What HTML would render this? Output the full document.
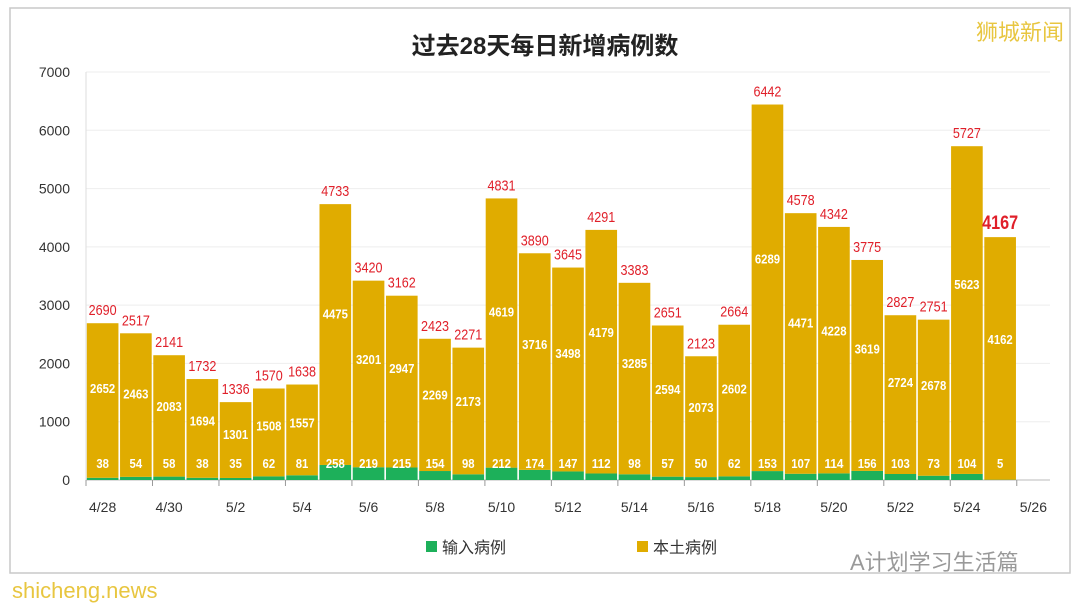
<!DOCTYPE html>
<html><head><meta charset="utf-8">
<style>
body{margin:0;width:1080px;height:609px;background:#fff;overflow:hidden;font-family:"Liberation Sans","Noto Sans CJK SC",sans-serif;}
svg text{font-family:"Liberation Sans","Noto Sans CJK SC",sans-serif;}
</style></head>
<body>
<svg id="chart" width="1080" height="609">
  <rect x="10" y="8" width="1060" height="565" fill="#fff" stroke="#c8c8c8" stroke-width="1.5"/>
  <text x="545" y="54" text-anchor="middle" font-size="24" font-weight="bold" fill="#222">过去28天每日新增病例数</text>
  <text x="1020" y="40" text-anchor="middle" font-size="22" fill="#e8c640">狮城新闻</text>
  <g id="grid"></g>
  <g id="bars"></g>
  <g id="axes"></g>
  <g>
    <rect x="426" y="541" width="11" height="11" fill="#1db05a"/>
    <text x="442" y="553" font-size="16" fill="#333">输入病例</text>
    <rect x="637" y="541" width="11" height="11" fill="#e0ac00"/>
    <text x="653" y="553" font-size="16" fill="#333">本土病例</text>
  </g>
  <text x="850" y="570" font-size="22" fill="#999">A计划学习生活篇</text>
  <text x="12" y="598" font-size="22" fill="#e8c640">shicheng.news</text>
</svg>
<script>
const categories=["4/28","4/29","4/30","5/1","5/2","5/3","5/4","5/5","5/6","5/7","5/8","5/9","5/10","5/11","5/12","5/13","5/14","5/15","5/16","5/17","5/18","5/19","5/20","5/21","5/22","5/23","5/24","5/25","5/26"];
const totals=[2690,2517,2141,1732,1336,1570,1638,4733,3420,3162,2423,2271,4831,3890,3645,4291,3383,2651,2123,2664,6442,4578,4342,3775,2827,2751,5727,4167];
const localCases=[2652,2463,2083,1694,1301,1508,1557,4475,3201,2947,2269,2173,4619,3716,3498,4179,3285,2594,2073,2602,6289,4471,4228,3619,2724,2678,5623,4162];
const imported=[38,54,58,38,35,62,81,258,219,215,154,98,212,174,147,112,98,57,50,62,153,107,114,156,103,73,104,5];
const yTicks=[0,1000,2000,3000,4000,5000,6000,7000];
const NS="http://www.w3.org/2000/svg";
const x0=86,x1=1050,y0=480,yTop=72,yMax=7000;
const slot=(x1-x0)/categories.length;
const xs=i=>x0+i*slot;
const ys=v=>y0-(v/yMax)*(y0-yTop);
function mk(tag,attrs,parent,txt){const e=document.createElementNS(NS,tag);for(const k in attrs)e.setAttribute(k,attrs[k]);if(txt!==undefined)e.textContent=txt;parent.appendChild(e);return e;}
const grid=document.getElementById('grid'),bars=document.getElementById('bars'),axes=document.getElementById('axes');
yTicks.forEach(v=>{
  const l=mk('line',{x1:x0,x2:x1,y1:ys(v),y2:ys(v),stroke:v===0?'#bbb':'#eee','stroke-width':1},grid);
  
  
  const t=mk('text',{x:x0-16,y:ys(v)+5,'text-anchor':'end','font-size':14,fill:'#333'},axes,String(v));
  
  
});
mk('line',{x1:x0,x2:x0,y1:yTop,y2:y0,stroke:'#ddd'},grid);
totals.forEach((tot,i)=>{
  const bx=xs(i)+0.8,bw=slot-1.6;
  const imp=imported[i],loc=localCases[i];
  const g=mk('rect',{x:bx,y:ys(imp),width:bw,height:y0-ys(imp),fill:'#1db05a'},bars);
  
  
  const r=mk('rect',{x:bx,y:ys(imp+loc),width:bw,height:ys(imp)-ys(imp+loc),fill:'#e0ac00'},bars);
  
  
  const cx=xs(i)+slot/2;
  const last=i===totals.length-1;
  const ts=String(tot);
  const tl=mk('text',{x:cx,y:ys(tot)-8,'text-anchor':'middle','font-size':last?19:15,'font-weight':last?'bold':'normal',fill:'#e0202a',textLength:ts.length*(last?9:7),lengthAdjust:'spacingAndGlyphs'},bars,ts);
  
  
  const segTop=ys(imp+loc),segBot=ys(imp);
  const ls=String(loc);
  const ll=mk('text',{x:cx,y:segTop+(segBot-segTop)*0.42+5,'text-anchor':'middle','font-size':13,'font-weight':'bold',fill:'#fff',textLength:ls.length*6.3,lengthAdjust:'spacingAndGlyphs'},bars,ls);
  
  
  const is=String(imp);
  const il=mk('text',{x:cx,y:468,'text-anchor':'middle','font-size':13,'font-weight':'bold',fill:'#fff',textLength:is.length*6.3,lengthAdjust:'spacingAndGlyphs'},bars,is);
  
  
});
categories.forEach((c,i)=>{
  if(i%2!==0)return;
  mk('line',{x1:xs(i),x2:xs(i),y1:y0,y2:y0+6,stroke:'#999'},axes);
  const t=mk('text',{x:xs(i)+slot/2,y:512,'text-anchor':'middle','font-size':14,fill:'#333'},axes,c);
  
  
});
</script>
</body></html>
